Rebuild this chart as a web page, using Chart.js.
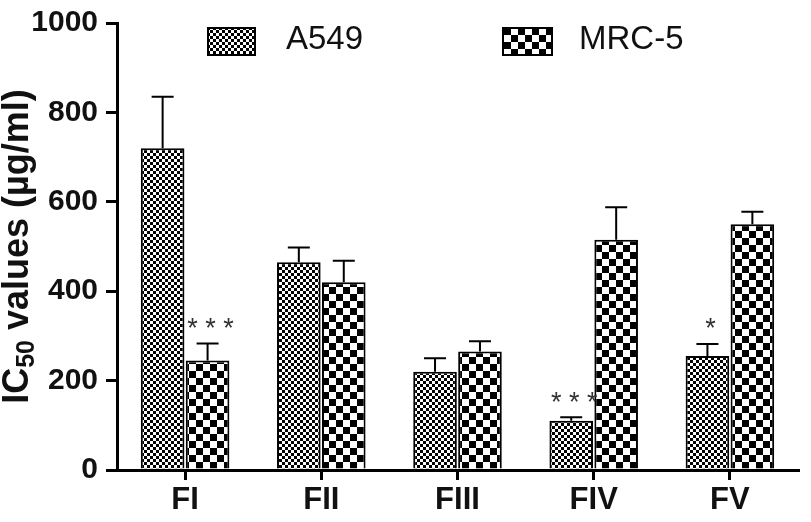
<!DOCTYPE html>
<html>
<head>
<meta charset="utf-8">
<script src="https://cdn.jsdelivr.net/npm/chart.js@4/dist/chart.umd.min.js"></script>
<style>
	body { margin: 0; background: #fff; }
	#wrap { width: 811px; height: 522px; }
</style>
</head>
<body>
<div id="wrap"><canvas id="chart"></canvas></div>
<script>
const fractions = ['FI', 'FII', 'FIII', 'FIV', 'FV'];
const a549Values = [720, 465, 220, 110, 255];
const a549Errors = [115, 33, 30, 8, 27];
const a549Stars = ['', '', '', '* * *', '*'];
const mrcValues = [245, 420, 265, 515, 550];
const mrcErrors = [38, 48, 23, 73, 28];
const mrcStars = ['* * *', '', '', '', ''];
const yTicks = [0, 200, 400, 600, 800, 1000];

const fontFamily = '"Liberation Sans", Arial, Helvetica, sans-serif';

function checker(cell) {
	let c = document.createElement('canvas');
	c.width = c.height = cell * 2;
	let g = c.getContext('2d');
	g.fillStyle = '#fff';
	g.fillRect(0, 0, cell * 2, cell * 2);
	g.fillStyle = '#000';
	g.fillRect(0, 0, cell, cell);
	g.fillRect(cell, cell, cell, cell);
	return g.createPattern(c, 'repeat');
}

const fineFill = checker(3);
const coarseFill = checker(7);

// error bars (upward only) and significance stars
const errorBarPlugin = {
	id: 'errorBars',
	afterDatasetsDraw(chart) {
		const ctx = chart.ctx;
		const y = chart.scales.y;
		chart.data.datasets.forEach((ds, i) => {
			const meta = chart.getDatasetMeta(i);
			meta.data.forEach((bar, j) => {
				const top = y.getPixelForValue(ds.data[j] + ds.errors[j]);
				ctx.save();
				ctx.strokeStyle = '#000';
				ctx.lineWidth = 2;
				ctx.beginPath();
				ctx.moveTo(bar.x, bar.y);
				ctx.lineTo(bar.x, top);
				ctx.moveTo(bar.x - 11, top);
				ctx.lineTo(bar.x + 11, top);
				ctx.stroke();
				if (ds.stars[j]) {
					ctx.fillStyle = '#333';
					ctx.font = '27px ' + fontFamily;
					ctx.textAlign = 'center';
					ctx.textBaseline = 'middle';
					ctx.fillText(ds.stars[j], bar.x + 3, top - 14);
				}
				ctx.restore();
			});
		});
	}
};

// legend at top of plot area and the y title with subscript
const decorPlugin = {
	id: 'decor',
	afterDraw(chart) {
		const ctx = chart.ctx;
		const area = chart.chartArea;
		const items = [
			{x: 208, w: 47, textX: 286},
			{x: 503, w: 49, textX: 579},
		];
		chart.data.datasets.forEach((ds, i) => {
			let it = items[i];
			ctx.save();
			ctx.fillStyle = ds.backgroundColor;
			ctx.fillRect(it.x, 28, it.w, 27);
			ctx.strokeStyle = '#000';
			ctx.lineWidth = 2;
			ctx.strokeRect(it.x, 28, it.w, 27);
			ctx.fillStyle = '#111';
			ctx.font = '33px ' + fontFamily;
			ctx.textAlign = 'left';
			ctx.textBaseline = 'middle';
			ctx.fillText(ds.label, it.textX, 40);
			ctx.restore();
		});

		// y axis title
		const big = 'bold 36px ' + fontFamily;
		const small = 'bold 25px ' + fontFamily;
		ctx.save();
		ctx.font = big;
		const w1 = ctx.measureText('IC').width;
		const w3 = ctx.measureText(' values (\u00b5g/ml)').width;
		ctx.font = small;
		const w2 = ctx.measureText('50').width;
		const total = w1 + w2 + w3;
		ctx.translate(28, (area.top + area.bottom) / 2);
		ctx.rotate(-Math.PI / 2);
		ctx.fillStyle = '#111';
		ctx.textBaseline = 'alphabetic';
		ctx.textAlign = 'left';
		let x = -total / 2;
		ctx.font = big;
		ctx.fillText('IC', x, 0);
		x += w1;
		ctx.font = small;
		ctx.fillText('50', x, 6);
		x += w2;
		ctx.font = big;
		ctx.fillText(' values (\u00b5g/ml)', x, 0);
		ctx.restore();
	}
};

new Chart(document.getElementById('chart'), {
	type: 'bar',
	data: {
		labels: fractions,
		datasets: [
			{
				label: 'A549',
				data: a549Values,
				errors: a549Errors,
				stars: a549Stars,
				backgroundColor: fineFill,
				borderColor: '#000',
				borderWidth: 2,
				barPercentage: 0.97,
				categoryPercentage: 0.66,
			},
			{
				label: 'MRC-5',
				data: mrcValues,
				errors: mrcErrors,
				stars: mrcStars,
				backgroundColor: coarseFill,
				borderColor: '#000',
				borderWidth: 2,
				barPercentage: 0.97,
				categoryPercentage: 0.66,
			},
		],
	},
	options: {
		responsive: true,
		maintainAspectRatio: false,
		animation: false,
		layout: {
			padding: {top: 16, right: 13, left: 0, bottom: 0},
		},
		plugins: {
			legend: {display: false},
			tooltip: {enabled: false},
		},
		scales: {
			x: {
				offset: true,
				afterFit(scale) { scale.height = 52; },
				grid: {
					offset: false,
					drawOnChartArea: false,
					tickLength: 10,
					lineWidth: 3,
					color: '#000',
				},
				border: {display: true, width: 3, color: '#000'},
				ticks: {
					color: '#111',
					padding: 5,
					font: {family: fontFamily, size: 31, weight: 'bold', lineHeight: 1},
				},
			},
			y: {
				min: 0,
				max: 1000,
				afterFit(scale) { scale.width = 117; },
				afterBuildTicks(scale) {
					scale.ticks = yTicks.map(v => ({value: v}));
				},
				grid: {
					drawOnChartArea: false,
					tickLength: 11,
					lineWidth: 3,
					color: '#000',
				},
				border: {display: true, width: 3, color: '#000'},
				ticks: {
					color: '#111',
					padding: 8,
					callback: v => String(v),
					font: {family: fontFamily, size: 30, weight: 'bold', lineHeight: 1},
				},
			},
		},
	},
	plugins: [errorBarPlugin, decorPlugin],
});
</script>
</body>
</html>
